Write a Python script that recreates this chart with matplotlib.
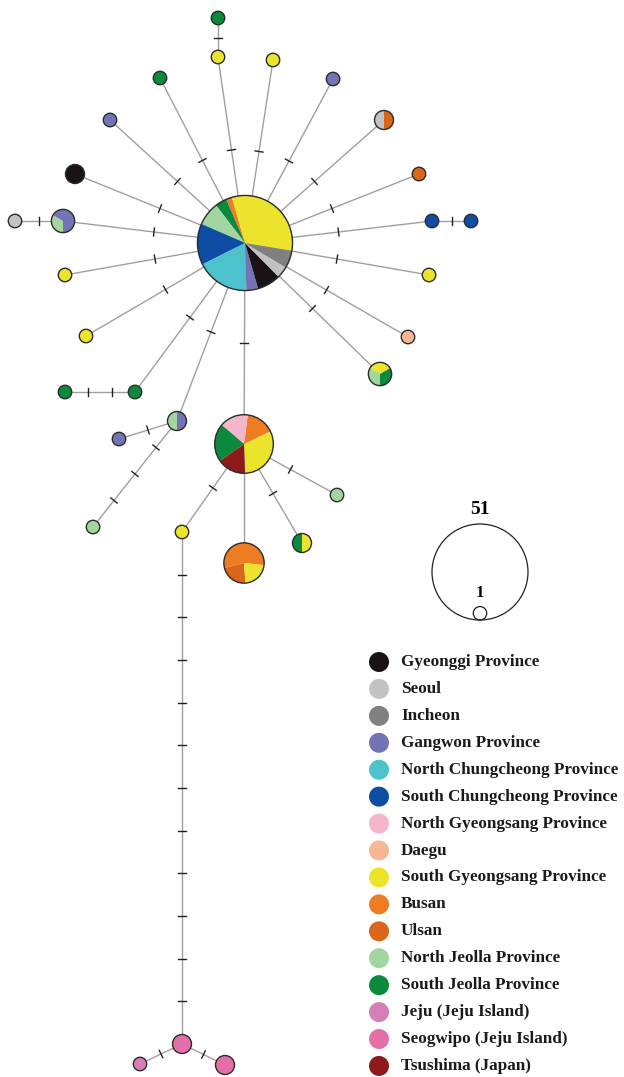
import matplotlib
matplotlib.use('Agg')
import matplotlib.pyplot as plt
from matplotlib.patches import Wedge, Circle
import numpy as np

# legend regions and their colours
regions = ['Gyeonggi Province', 'Seoul', 'Incheon', 'Gangwon Province',
           'North Chungcheong Province', 'South Chungcheong Province',
           'North Gyeongsang Province', 'Daegu', 'South Gyeongsang Province',
           'Busan', 'Ulsan', 'North Jeolla Province', 'South Jeolla Province',
           'Jeju (Jeju Island)', 'Seogwipo (Jeju Island)', 'Tsushima (Japan)']
region_colors = ['#1a1214', '#c2c2c2', '#808080', '#7473b6',
                 '#4cc3cc', '#0e4da4', '#f4b6c9', '#f5b794', '#ece42a',
                 '#ee7c22', '#d9661a', '#a3d5a0', '#0b8a3d',
                 '#d67fb7', '#e46fa8', '#8e1a1a']
col = dict(zip(regions, region_colors))

GY, SE, IN, GW = 'Gyeonggi Province', 'Seoul', 'Incheon', 'Gangwon Province'
NC, SC, NG, DG = 'North Chungcheong Province', 'South Chungcheong Province', 'North Gyeongsang Province', 'Daegu'
SG, BU, UL = 'South Gyeongsang Province', 'Busan', 'Ulsan'
NJ, SJ, JE, SW, TS = 'North Jeolla Province', 'South Jeolla Province', 'Jeju (Jeju Island)', 'Seogwipo (Jeju Island)', 'Tsushima (Japan)'

# haplotypes: composition (region, number of individuals)
hap_names = ['H1', 'H2', 'H3', 'a', 'a2', 'b', 'c', 'd', 'e', 'f', 'g', 'h', 'i', 'i2',
             'j', 'k', 'l', 'm', 'm2', 'n', 'o', 'p', 'p2', 'q', 'q1', 'q2',
             'r', 's', 't', 'J1', 'J2', 'J3']
hap_comp = [
    [(BU, 1), (SJ, 2), (NJ, 4), (SC, 7), (NC, 9), (GW, 2), (GY, 4), (SE, 2), (IN, 3), (SG, 16)],
    [(SG, 6), (BU, 3), (NG, 3), (SJ, 4), (TS, 3)],
    [(BU, 5), (UL, 2), (SG, 2)],
    [(SG, 1)], [(SJ, 1)], [(SG, 1)], [(SJ, 1)], [(GW, 1)], [(GY, 2)], [(GW, 1)],
    [(SE, 1), (UL, 1)], [(UL, 1)], [(SC, 1)], [(SC, 1)],
    [(SG, 1)], [(DG, 1)], [(SG, 1), (NJ, 1), (SJ, 1)],
    [(NJ, 1), (GW, 2)], [(SE, 1)], [(SG, 1)], [(SG, 1)], [(SJ, 1)], [(SJ, 1)],
    [(NJ, 1), (GW, 1)], [(GW, 1)], [(NJ, 1)],
    [(SG, 1)], [(NJ, 1)], [(SJ, 1), (SG, 1)],
    [(SW, 2)], [(JE, 1)], [(SW, 2)],
]

# links: (from, to, number of mutation marks)
links = [('H1', 'a', 1), ('a', 'a2', 1), ('H1', 'b', 1), ('H1', 'c', 1), ('H1', 'd', 1),
         ('H1', 'e', 1), ('H1', 'f', 1), ('H1', 'g', 1), ('H1', 'h', 1), ('H1', 'i', 1),
         ('i', 'i2', 1), ('H1', 'j', 1), ('H1', 'k', 1), ('H1', 'l', 1), ('H1', 'm', 1),
         ('m', 'm2', 1), ('H1', 'n', 1), ('H1', 'o', 1), ('H1', 'p', 1), ('p', 'p2', 2),
         ('H1', 'q', 1), ('q', 'q1', 1), ('q', 'q2', 3), ('H1', 'H2', 1), ('H2', 'r', 1),
         ('H2', 'H3', 0), ('H2', 's', 1), ('H2', 't', 1), ('r', 'J1', 11),
         ('J1', 'J2', 1), ('J1', 'J3', 1)]

# network layout (pixel positions, y downwards) and pie start angles
pos = {'H1': (245, 243), 'H2': (244, 444), 'H3': (244, 563),
       'a': (218, 57), 'a2': (218, 18), 'b': (273, 60), 'c': (160, 78), 'd': (110, 120),
       'e': (75, 174), 'f': (333, 79), 'g': (384, 120), 'h': (419, 174),
       'i': (432, 221), 'i2': (471, 221), 'j': (429, 275), 'k': (408, 337),
       'l': (380, 374), 'm': (63, 221), 'm2': (15, 221), 'n': (65, 275), 'o': (86, 336),
       'p': (135, 392), 'p2': (65, 392), 'q': (177, 421), 'q1': (119, 439), 'q2': (93, 527),
       'r': (182, 532), 's': (337, 495), 't': (302, 543),
       'J1': (182, 1044), 'J2': (140, 1064), 'J3': (225, 1065)}
start = {'H1': 106, 'H2': -88, 'H3': -6, 'm': 150, 'l': 30}

H = 1077
def Y(y):
    return H - y

fig = plt.figure(figsize=(6.24, 10.77), dpi=100)
ax = fig.add_axes([0, 0, 1, 1])
ax.set_xlim(0, 624)
ax.set_ylim(0, H)
ax.axis('off')

unit_r = 48 / np.sqrt(51)

# links and mutation ticks
for a, b, m in links:
    x1, y1 = pos[a][0], Y(pos[a][1])
    x2, y2 = pos[b][0], Y(pos[b][1])
    ax.plot([x1, x2], [y1, y2], color='#a39e9e', lw=1.0, zorder=1)
    dx, dy = x2 - x1, y2 - y1
    L = np.hypot(dx, dy)
    px, py = -dy / L, dx / L
    for k in range(1, m + 1):
        t = k / (m + 1)
        cx, cy = x1 + dx * t, y1 + dy * t
        ax.plot([cx - 4 * px, cx + 4 * px], [cy - 4 * py, cy + 4 * py],
                color='#222222', lw=1.0, zorder=2)

# pie nodes
for name, comp in zip(hap_names, hap_comp):
    x, y = pos[name][0], Y(pos[name][1])
    n = sum(c for _, c in comp)
    r = unit_r * np.sqrt(n)
    theta = start.get(name, 90)
    for reg, c in comp:
        span = 360 * c / n
        ax.add_patch(Wedge((x, y), r, theta, theta + span, facecolor=col[reg],
                           edgecolor='none', zorder=3))
        theta += span
    ax.add_patch(Circle((x, y), r, fill=False, edgecolor='#2b2b2b', lw=1.0, zorder=4))

# size scale
serif = 'Liberation Serif'
ax.add_patch(Circle((480, Y(572)), 48, fill=False, edgecolor='#222222', lw=0.9))
ax.add_patch(Circle((480, Y(620 - unit_r)), unit_r, fill=False, edgecolor='#222222', lw=0.9))
ax.text(480, Y(510), '51', ha='center', va='center', fontsize=14, fontweight='bold', family=serif)
ax.text(480, Y(593), '1', ha='center', va='center', fontsize=12, fontweight='bold', family=serif)

# legend
for i, reg in enumerate(regions):
    yy = Y(662 + 26.93 * i)
    ax.add_patch(Circle((379, yy), 10, facecolor=col[reg], edgecolor='none'))
    ax.text(401, yy, reg, ha='left', va='center', fontsize=12.3, fontweight='bold',
            family=serif, color='#1a1a1a')

fig.savefig('out.png', dpi=100)
